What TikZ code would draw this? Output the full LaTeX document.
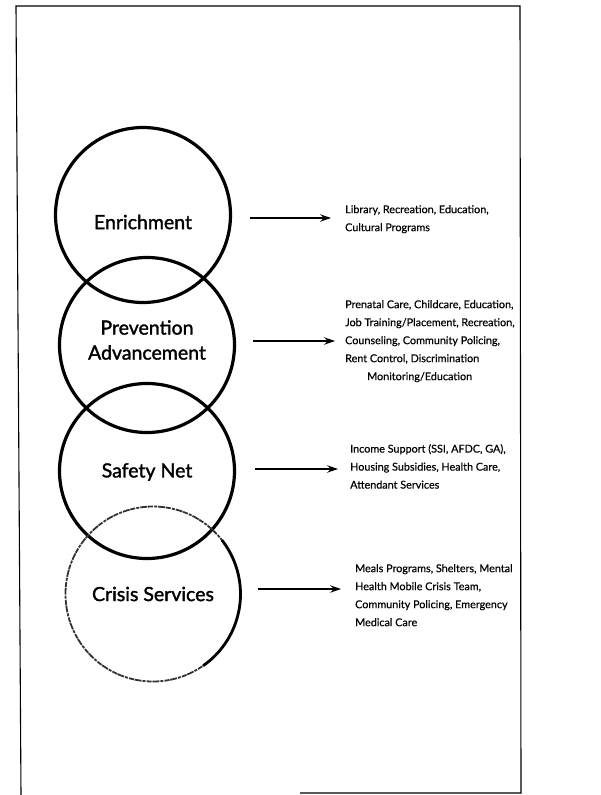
\documentclass[tikz,border=0pt]{standalone}
\usepackage{fontspec}
\setmainfont{Lato}
\newfontfamily\circfont{Lato}[FakeBold=1.6]
\newfontfamily\listfont{Lato}[FakeBold=0.5]
\usetikzlibrary{arrows.meta}
\begin{document}
\begin{tikzpicture}[x=1pt,y=-1pt,
  ring/.style={draw, circle, line width=3.2pt, minimum size=175pt, inner sep=0pt},
  circtext/.style={font=\circfont\fontsize{19.5}{25}\selectfont, align=center, inner sep=0pt},
  listtext/.style={font=\listfont\fontsize{10.8}{18}\selectfont, align=left, anchor=north west, inner sep=0pt},
  conn/.style={line width=1.1pt, -{Stealth[length=11pt,width=7.5pt,inset=4pt]}},
  frame/.style={line width=1.1pt}
]
\useasboundingbox (0,0) rectangle (600,795);
% frame
\coordinate (f1) at (16,6);
\coordinate (f2) at (520,6);
\coordinate (f3) at (521,793);
\coordinate (f4) at (300,793);
\coordinate (f5) at (21,795);
\draw[frame] (f4) -- (f3) -- (f2) -- (f1) -- (f5);
% circles
\node[ring] (enr) at (143,215) {};
\node[ring] (prev) at (147,345) {};
\node[ring] (safe) at (147,471) {};
\node[circle, minimum size=175pt, inner sep=0pt] (cris) at (153,594) {};
\draw[line width=1.8pt, dash pattern=on 7pt off 1pt on 3pt off 1.2pt on 5pt off 0.7pt, black!80] (cris.center) circle (87.5pt);
\draw[line width=2.8pt] ([shift={(38:87.5pt)}]cris.center) arc (38:-55:87.5pt);
% circle labels
\node[circtext] (tenr) at (143,222) {Enrichment};
\node[circtext] (tprev) at (147,340) {Prevention\\Advancement};
\node[circtext] (tsafe) at (147,472) {Safety Net};
\node[circtext] (tcris) at (153,594) {Crisis Services};
% lists
\node[listtext] (lenr) at (345,205) {Library, Recreation, Education,\\Cultural Programs};
\node[listtext] (lprev) at (345,300) {Prenatal Care, Childcare, Education,\\Job Training/Placement, Recreation,\\Counseling, Community Policing,\\Rent Control, Discrimination\\\hspace*{22pt}Monitoring/Education};
\node[listtext] (lsafe) at (350,444) {Income Support (SSI, AFDC, GA),\\Housing Subsidies, Health Care,\\Attendant Services};
\node[listtext] (lcris) at (355,564) {Meals Programs, Shelters, Mental\\Health Mobile Crisis Team,\\Community Policing, Emergency\\Medical Care};
% arrows
\coordinate (s1) at (250,218); \coordinate (e1) at (331,218);
\coordinate (s2) at (253,341); \coordinate (e2) at (335,341);
\coordinate (s3) at (255,469); \coordinate (e3) at (338,469);
\coordinate (s4) at (258,589); \coordinate (e4) at (341,589);
\draw[conn] (s1) -- (e1);
\draw[conn] (s2) -- (e2);
\draw[conn] (s3) -- (e3);
\draw[conn] (s4) -- (e4);
\end{tikzpicture}
\end{document}
